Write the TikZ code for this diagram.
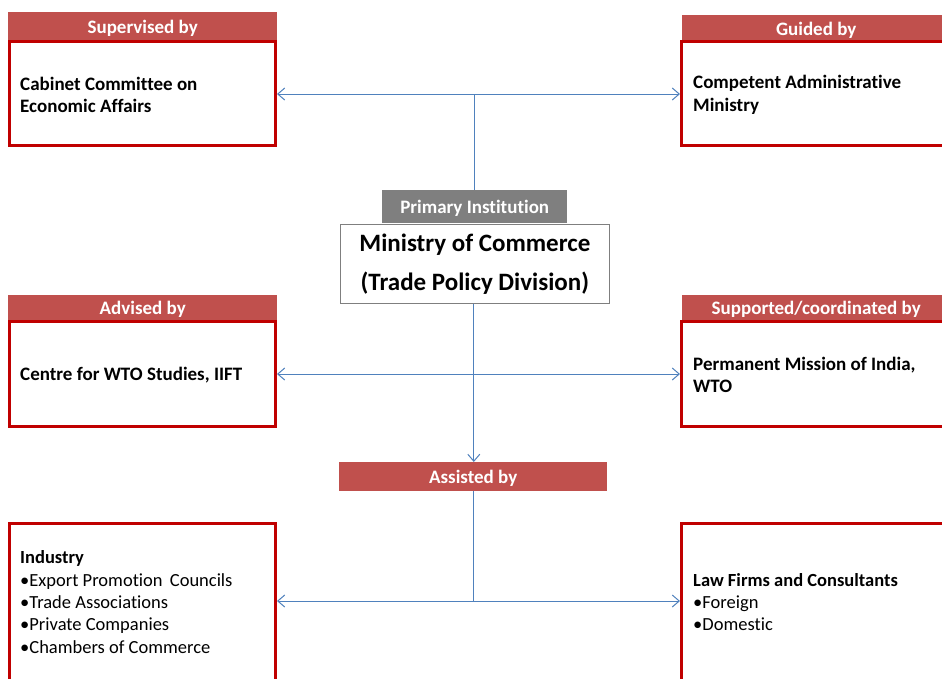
\documentclass[tikz,border=0pt]{standalone}
\usepackage{fontspec}
\setmainfont[Ligatures=NoCommon]{Carlito}
\usetikzlibrary{arrows.meta}
\definecolor{hdrred}{HTML}{C0504D}
\definecolor{boxred}{HTML}{C00000}
\definecolor{hdrgray}{HTML}{7F7F7F}
\definecolor{connblue}{HTML}{4F81BD}
\begin{document}
\begin{tikzpicture}[x=1pt,y=-1pt,
  hdr/.style={fill=hdrred, text=white, font=\bfseries\fontsize{19}{22}\selectfont, inner sep=0, anchor=north west, text height=14pt, text depth=0pt},
  box/.style={draw=boxred, line width=3pt, fill=white, anchor=north west, inner sep=0},
  txt/.style={anchor=west, align=left, inner sep=0, font=\bfseries\fontsize{19}{22.5}\selectfont},
  lst/.style={anchor=west, align=left, inner sep=0, font=\fontsize{18.5}{22.3}\selectfont},
  conn/.style={draw=connblue, line width=1pt},
  tipped/.style={-{Straight Barb[length=7pt,width=12pt]}}
]
\useasboundingbox (0,0) rectangle (942,678);
\clip (0,0) rectangle (942,678);
\fill[white] (0,0) rectangle (942,678);

% top left
\node[hdr, minimum width=269pt, minimum height=28pt] (hsup) at (8,12) {Supervised by};
\node[box, minimum width=266pt, minimum height=104pt] (cab) at (8,40) {};
\node[txt] (tcab) at (20,95) {Cabinet Committee on\\Economic Affairs};

% top right
\node[hdr, minimum width=268pt, minimum height=27pt] (hgui) at (682,15) {Guided by};
\node[box, minimum width=266pt, minimum height=104pt] (cam) at (680,40) {};
\node[txt] (tcam) at (693,95) {Competent Administrative\\Ministry};

% primary
\node[hdr, fill=hdrgray, minimum width=185pt, minimum height=33pt] (hpri) at (382,190) {Primary Institution};
\node[draw=hdrgray, line width=0.8pt, fill=white, anchor=north west, inner sep=0, minimum width=269pt, minimum height=79pt, align=center, font=\bfseries\fontsize{25}{39}\selectfont] (main) at (340,224) {\rule{0pt}{4pt}Ministry of Commerce\\(Trade Policy Division)};

% middle left
\node[hdr, minimum width=269pt, minimum height=25pt] (hadv) at (8,295) {Advised by};
\node[box, minimum width=266pt, minimum height=105pt] (adv) at (8,320) {};
\node[txt] (tadv) at (20,375) {Centre for WTO Studies, IIFT};

% middle right
\node[hdr, minimum width=268pt, minimum height=25pt] (hsupp) at (682,295) {Supported/coordinated by};
\node[box, minimum width=266pt, minimum height=105pt] (perm) at (680,320) {};
\node[txt] (tperm) at (693,375) {Permanent Mission of India,\\WTO};

% assisted
\node[hdr, minimum width=268pt, minimum height=29pt] (hass) at (339,462) {Assisted by};

% bottom left
\node[box, minimum width=266pt, minimum height=200pt] (ind) at (8,522) {};
\node[lst] (tind) at (20,602) {\textbf{Industry}\\•Export Promotion\, Councils\\•Trade Associations\\•Private Companies\\•Chambers of Commerce};

% bottom right
\node[box, minimum width=266pt, minimum height=200pt] (law) at (680,522) {};
\node[lst] (tlaw) at (693,602) {\textbf{Law Firms and Consultants}\\•Foreign\\•Domestic};

% connectors
\coordinate (h1) at (474.5,94);
\coordinate (h2) at (473.8,374);
\coordinate (h3) at (473.5,601);
\draw[conn] (h1) -- (hpri.north -| h1);
\draw[conn, tipped] (h1) -- (cab.east |- h1);
\draw[conn, tipped] (h1) -- (cam.west |- h1);
\draw[conn, tipped] (main.south -| h2) -- (hass.north -| h2);
\draw[conn, tipped] (h2) -- (adv.east |- h2);
\draw[conn, tipped] (h2) -- (perm.west |- h2);
\draw[conn] (hass.south -| h3) -- (h3);
\draw[conn, tipped] (h3) -- (ind.east |- h3);
\draw[conn, tipped] (h3) -- (law.west |- h3);
\end{tikzpicture}
\end{document}
